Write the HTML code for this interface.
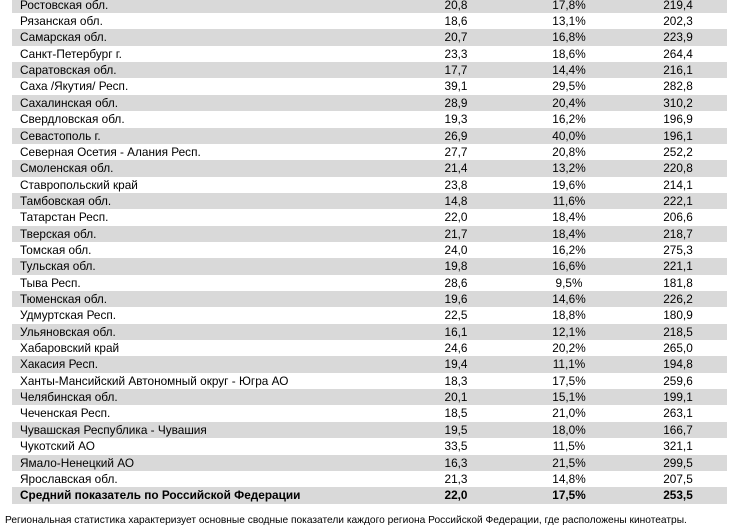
<!DOCTYPE html>
<html><head><meta charset="utf-8"><style>
body{margin:0;width:733px;height:531px;background:#fff;overflow:hidden;position:relative;font-family:"Liberation Sans",sans-serif;font-size:11.8px;color:#000}
.r{position:absolute;left:12px;width:715px;height:16.4px;line-height:16.4px}
.g{background:#d9d9d9}
.r span{position:absolute;top:0}
.n{left:8px}
.a,.b,.c{width:80px;text-align:center}
.a{left:404px}.b{left:517px}.c{left:626px}
.bold{font-weight:bold}
.foot{position:absolute;left:5px;top:514px;font-size:10.2px;line-height:14px}
</style></head><body>
<div class="r g" style="top:-3.3px"><span class="n">Ростовская обл.</span><span class="a">20,8</span><span class="b">17,8%</span><span class="c">219,4</span></div>
<div class="r" style="top:13.05px"><span class="n">Рязанская обл.</span><span class="a">18,6</span><span class="b">13,1%</span><span class="c">202,3</span></div>
<div class="r g" style="top:29.4px"><span class="n">Самарская обл.</span><span class="a">20,7</span><span class="b">16,8%</span><span class="c">223,9</span></div>
<div class="r" style="top:45.75px"><span class="n">Санкт-Петербург г.</span><span class="a">23,3</span><span class="b">18,6%</span><span class="c">264,4</span></div>
<div class="r g" style="top:62.1px"><span class="n">Саратовская обл.</span><span class="a">17,7</span><span class="b">14,4%</span><span class="c">216,1</span></div>
<div class="r" style="top:78.45px"><span class="n">Саха /Якутия/ Респ.</span><span class="a">39,1</span><span class="b">29,5%</span><span class="c">282,8</span></div>
<div class="r g" style="top:94.8px"><span class="n">Сахалинская обл.</span><span class="a">28,9</span><span class="b">20,4%</span><span class="c">310,2</span></div>
<div class="r" style="top:111.15px"><span class="n">Свердловская обл.</span><span class="a">19,3</span><span class="b">16,2%</span><span class="c">196,9</span></div>
<div class="r g" style="top:127.5px"><span class="n">Севастополь г.</span><span class="a">26,9</span><span class="b">40,0%</span><span class="c">196,1</span></div>
<div class="r" style="top:143.85px"><span class="n">Северная Осетия - Алания Респ.</span><span class="a">27,7</span><span class="b">20,8%</span><span class="c">252,2</span></div>
<div class="r g" style="top:160.2px"><span class="n">Смоленская обл.</span><span class="a">21,4</span><span class="b">13,2%</span><span class="c">220,8</span></div>
<div class="r" style="top:176.55px"><span class="n">Ставропольский край</span><span class="a">23,8</span><span class="b">19,6%</span><span class="c">214,1</span></div>
<div class="r g" style="top:192.9px"><span class="n">Тамбовская обл.</span><span class="a">14,8</span><span class="b">11,6%</span><span class="c">222,1</span></div>
<div class="r" style="top:209.25px"><span class="n">Татарстан Респ.</span><span class="a">22,0</span><span class="b">18,4%</span><span class="c">206,6</span></div>
<div class="r g" style="top:225.6px"><span class="n">Тверская обл.</span><span class="a">21,7</span><span class="b">18,4%</span><span class="c">218,7</span></div>
<div class="r" style="top:241.95px"><span class="n">Томская обл.</span><span class="a">24,0</span><span class="b">16,2%</span><span class="c">275,3</span></div>
<div class="r g" style="top:258.3px"><span class="n">Тульская обл.</span><span class="a">19,8</span><span class="b">16,6%</span><span class="c">221,1</span></div>
<div class="r" style="top:274.65px"><span class="n">Тыва Респ.</span><span class="a">28,6</span><span class="b">9,5%</span><span class="c">181,8</span></div>
<div class="r g" style="top:291px"><span class="n">Тюменская обл.</span><span class="a">19,6</span><span class="b">14,6%</span><span class="c">226,2</span></div>
<div class="r" style="top:307.35px"><span class="n">Удмуртская Респ.</span><span class="a">22,5</span><span class="b">18,8%</span><span class="c">180,9</span></div>
<div class="r g" style="top:323.7px"><span class="n">Ульяновская обл.</span><span class="a">16,1</span><span class="b">12,1%</span><span class="c">218,5</span></div>
<div class="r" style="top:340.05px"><span class="n">Хабаровский край</span><span class="a">24,6</span><span class="b">20,2%</span><span class="c">265,0</span></div>
<div class="r g" style="top:356.4px"><span class="n">Хакасия Респ.</span><span class="a">19,4</span><span class="b">11,1%</span><span class="c">194,8</span></div>
<div class="r" style="top:372.75px"><span class="n">Ханты-Мансийский Автономный округ - Югра АО</span><span class="a">18,3</span><span class="b">17,5%</span><span class="c">259,6</span></div>
<div class="r g" style="top:389.1px"><span class="n">Челябинская обл.</span><span class="a">20,1</span><span class="b">15,1%</span><span class="c">199,1</span></div>
<div class="r" style="top:405.45px"><span class="n">Чеченская Респ.</span><span class="a">18,5</span><span class="b">21,0%</span><span class="c">263,1</span></div>
<div class="r g" style="top:421.8px"><span class="n">Чувашская Республика - Чувашия</span><span class="a">19,5</span><span class="b">18,0%</span><span class="c">166,7</span></div>
<div class="r" style="top:438.15px"><span class="n">Чукотский АО</span><span class="a">33,5</span><span class="b">11,5%</span><span class="c">321,1</span></div>
<div class="r g" style="top:454.5px"><span class="n">Ямало-Ненецкий АО</span><span class="a">16,3</span><span class="b">21,5%</span><span class="c">299,5</span></div>
<div class="r" style="top:470.85px"><span class="n">Ярославская обл.</span><span class="a">21,3</span><span class="b">14,8%</span><span class="c">207,5</span></div>
<div class="r g bold" style="top:487.2px"><span class="n">Средний показатель по Российской Федерации</span><span class="a">22,0</span><span class="b">17,5%</span><span class="c">253,5</span></div>
<div class="foot">Региональная статистика характеризует основные сводные показатели каждого региона Российской Федерации, где расположены кинотеатры.</div>
</body></html>
